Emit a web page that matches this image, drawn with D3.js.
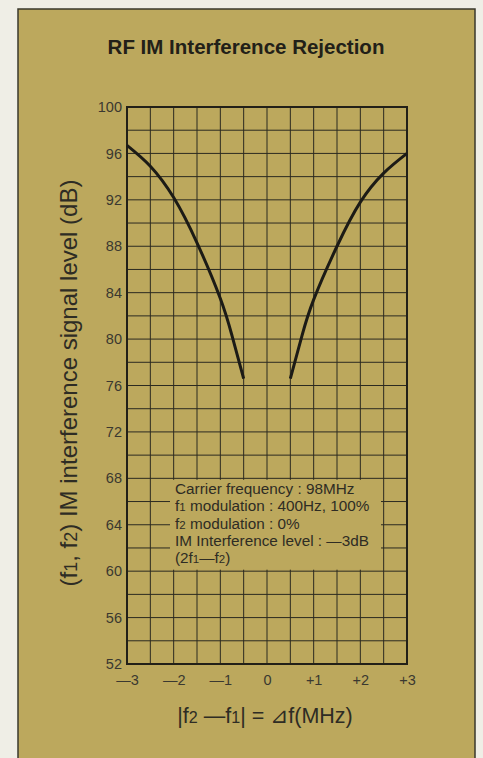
<!DOCTYPE html>
<html>
<head>
<meta charset="utf-8">
<script src="https://cdn.jsdelivr.net/npm/d3@7"></script>
<style>
  body { margin: 0; background: #efeee6; }
  svg { display: block; }
  text { font-family: "Liberation Sans", Arial, Helvetica, sans-serif; }
</style>
</head>
<body>
<div id="chart-area"></div>
<script>
// values
const xTicks = [-3, -2, -1, 0, 1, 2, 3];
const xTickLabels = ["\u20143", "\u20142", "\u20141", "0", "+1", "+2", "+3"];
const yTicks = [52, 56, 60, 64, 68, 72, 76, 80, 84, 88, 92, 96, 100];

const leftX = [-3, -2.5, -2, -1.5, -1, -0.75, -0.5];
const leftY = [96.7, 94.9, 92.2, 88.3, 83.5, 80.3, 76.6];
const rightX = [0.5, 0.75, 1, 1.5, 2, 2.5, 3];
const rightY = [76.6, 80.3, 83.4, 88.0, 91.8, 94.3, 96.0];

// each line: [text, isSubscript] pieces
const noteLines = [
  [["Carrier frequency : 98MHz", 0]],
  [["f", 0], ["1", 1], [" modulation : 400Hz, 100%", 0]],
  [["f", 0], ["2", 1], [" modulation : 0%", 0]],
  [["IM Interference level : \u20143dB", 0]],
  [["(2f", 0], ["1", 1], ["\u2014f", 0], ["2", 1], [")", 0]]
];
const title = "RF IM Interference Rejection";
const yTitle = [["(f", 0], ["1", 1], [", f", 0], ["2", 1], [") IM interference signal level (dB)", 0]];
const xTitle = [["|f", 0], ["2", 1], [" \u2014f", 0], ["1", 1], ["| = \u22bff(MHz)", 0]];

const W = 483, H = 758;
const plot = { left: 127, right: 407, top: 107, bottom: 664 };

const x = d3.scaleLinear().domain([-3, 3]).range([plot.left, plot.right]);
const y = d3.scaleLinear().domain([52, 100]).range([plot.bottom, plot.top]);

const svg = d3.select("#chart-area").append("svg")
  .attr("width", W).attr("height", H);

// khaki card
svg.append("rect")
  .attr("x", 18).attr("y", 9).attr("width", 457).attr("height", H + 10)
  .attr("fill", "#bca85d").attr("stroke", "#3a382c").attr("stroke-width", 1.5);

svg.append("text")
  .attr("x", 246).attr("y", 54)
  .attr("text-anchor", "middle")
  .attr("font-size", 20.5).attr("font-weight", "bold").attr("fill", "#222018")
  .text(title);

// grid: every 0.5 MHz and every 2 dB
const grid = svg.append("g").attr("stroke", "#2b2a20").attr("stroke-width", 1);
grid.selectAll("line.v").data(d3.range(-3, 3.01, 0.5)).join("line")
  .attr("class", "v")
  .attr("x1", d => x(d)).attr("x2", d => x(d))
  .attr("y1", plot.top).attr("y2", plot.bottom);
grid.selectAll("line.h").data(d3.range(52, 100.1, 2)).join("line")
  .attr("class", "h")
  .attr("y1", d => y(d)).attr("y2", d => y(d))
  .attr("x1", plot.left).attr("x2", plot.right);

svg.append("rect")
  .attr("x", plot.left).attr("y", plot.top)
  .attr("width", plot.right - plot.left).attr("height", plot.bottom - plot.top)
  .attr("fill", "none").attr("stroke", "#222018").attr("stroke-width", 2);

// y axis labels
const yAxis = d3.axisLeft(y).tickValues(yTicks).tickSize(0).tickPadding(5);
const ya = svg.append("g").attr("transform", `translate(${plot.left},0)`).call(yAxis);
ya.select(".domain").remove();
ya.selectAll("text")
  .attr("font-size", 14.5).attr("font-family", null).attr("fill", "#3a3830");

const xAxis = d3.axisBottom(x).tickValues(xTicks).tickSize(0).tickPadding(11)
  .tickFormat((d, i) => xTickLabels[i]);
const xa = svg.append("g").attr("transform", `translate(0,${plot.bottom})`).call(xAxis);
xa.select(".domain").remove();
xa.selectAll("text")
  .attr("font-size", 14.5).attr("font-family", null).attr("fill", "#3a3830");

// curve
const line = d3.line()
  .x(d => x(d[0])).y(d => y(d[1]))
  .curve(d3.curveNatural);
[[leftX, leftY], [rightX, rightY]].forEach(([xs, ys]) => {
  svg.append("path")
    .datum(d3.zip(xs, ys))
    .attr("d", line)
    .attr("fill", "none").attr("stroke", "#1c1b16").attr("stroke-width", 3);
});

// note box (covers grid)
svg.append("rect")
  .attr("x", 170).attr("y", y(68) + 1.5)
  .attr("width", 211).attr("height", y(60) - y(68) - 3)
  .attr("fill", "#bca85d");

const addPieces = (sel, pieces, size) => {
  pieces.forEach(([t, sub]) => {
    sel.append("tspan")
      .attr("font-size", sub ? size * 0.75 : size)
      .text(t);
  });
};

noteLines.forEach((pieces, i) => {
  const t = svg.append("text")
    .attr("x", 175).attr("y", 494 + i * 17.3)
    .attr("fill", "#2e2c24");
  addPieces(t, pieces, 15.3);
});

const yt = svg.append("text")
  .attr("transform", `translate(77,383) rotate(-90)`)
  .attr("text-anchor", "middle").attr("fill", "#2e2c24");
addPieces(yt, yTitle, 24);

const xt = svg.append("text")
  .attr("x", 265).attr("y", 723)
  .attr("text-anchor", "middle").attr("fill", "#2e2c24");
addPieces(xt, xTitle, 21.5);
</script>
</body>
</html>
